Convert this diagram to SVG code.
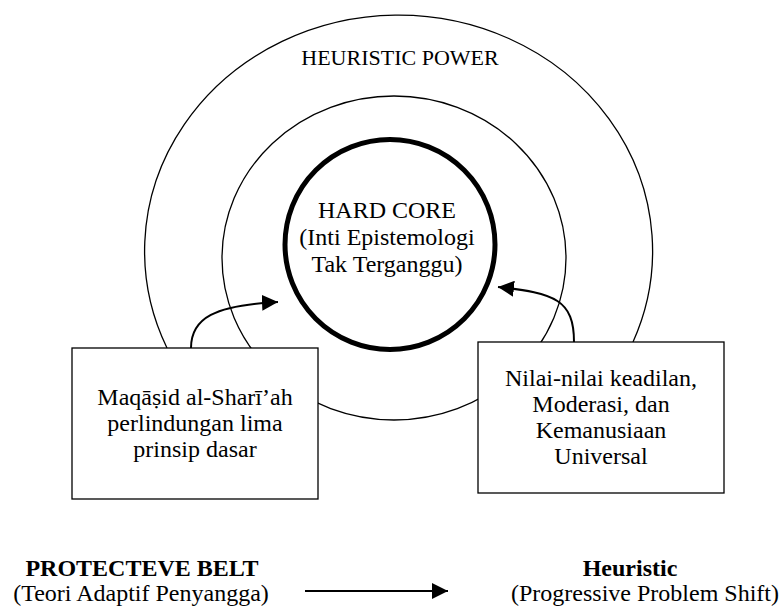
<svg xmlns="http://www.w3.org/2000/svg" width="782" height="607" viewBox="0 0 782 607">
  <style>
    .t { font-family: "Liberation Serif", "Times New Roman", "DejaVu Serif", serif; font-size: 24px; fill: #000; text-anchor: middle; }
    .b { font-weight: bold; }
    .ring { fill: none; stroke: #000; stroke-width: 1.3; }
    .core { fill: none; stroke: #000; stroke-width: 5; }
    .box { fill: #fff; stroke: #000; stroke-width: 1.3; }
    .arr { fill: none; stroke: #000; stroke-width: 2; marker-end: url(#ah); }
  </style>
  <defs>
    <marker id="ah" markerUnits="userSpaceOnUse" markerWidth="16" markerHeight="16" refX="16" refY="8" orient="auto">
      <path d="M0,0 L16,8 L0,16 z" fill="#000"/>
    </marker>
  </defs>
  <rect width="782" height="607" fill="#fff"/>

  <g id="heuristic-power">
    <path class="ring" d="M167,348 A254,236 0 1 1 633,342"/>
    <text class="t" x="400" y="65" style="font-size:22px">HEURISTIC POWER</text>
  </g>

  <g id="protective-ring">
    <ellipse class="ring" cx="394" cy="258" rx="172" ry="162"/>
  </g>

  <g id="hard-core">
    <circle class="core" cx="390" cy="244.5" r="105"/>
    <text class="t" x="387" y="218">HARD CORE</text>
    <text class="t" x="387" y="245">(Inti Epistemologi</text>
    <text class="t" x="387" y="272">Tak Terganggu)</text>
  </g>

  <g id="box-maqasid">
    <rect class="box" x="72" y="348" width="246" height="151"/>
    <text class="t" x="195" y="405">Maqāṣid al-Sharī’ah</text>
    <text class="t" x="195" y="431">perlindungan lima</text>
    <text class="t" x="195" y="457">prinsip dasar</text>
  </g>

  <g id="box-nilai">
    <rect class="box" x="478" y="342" width="246" height="151"/>
    <text class="t" x="601" y="386">Nilai-nilai keadilan,</text>
    <text class="t" x="601" y="412">Moderasi, dan</text>
    <text class="t" x="601" y="438">Kemanusiaan</text>
    <text class="t" x="601" y="464">Universal</text>
  </g>

  <g id="label-protective">
    <text class="t b" x="142" y="576">PROTECTEVE BELT</text>
    <text class="t" x="141" y="601">(Teori Adaptif Penyangga)</text>
  </g>

  <g id="label-heuristic">
    <text class="t b" x="630" y="576">Heuristic</text>
    <text class="t" x="645" y="601">(Progressive Problem Shift)</text>
  </g>

  <g id="connectors">
    <path class="arr" d="M191,348 C191,318 215,305 278,302"/>
    <path class="arr" d="M574,342 C574,300 555,293 498,287"/>
    <path class="arr" d="M305,591 L448,591"/>
  </g>
</svg>
